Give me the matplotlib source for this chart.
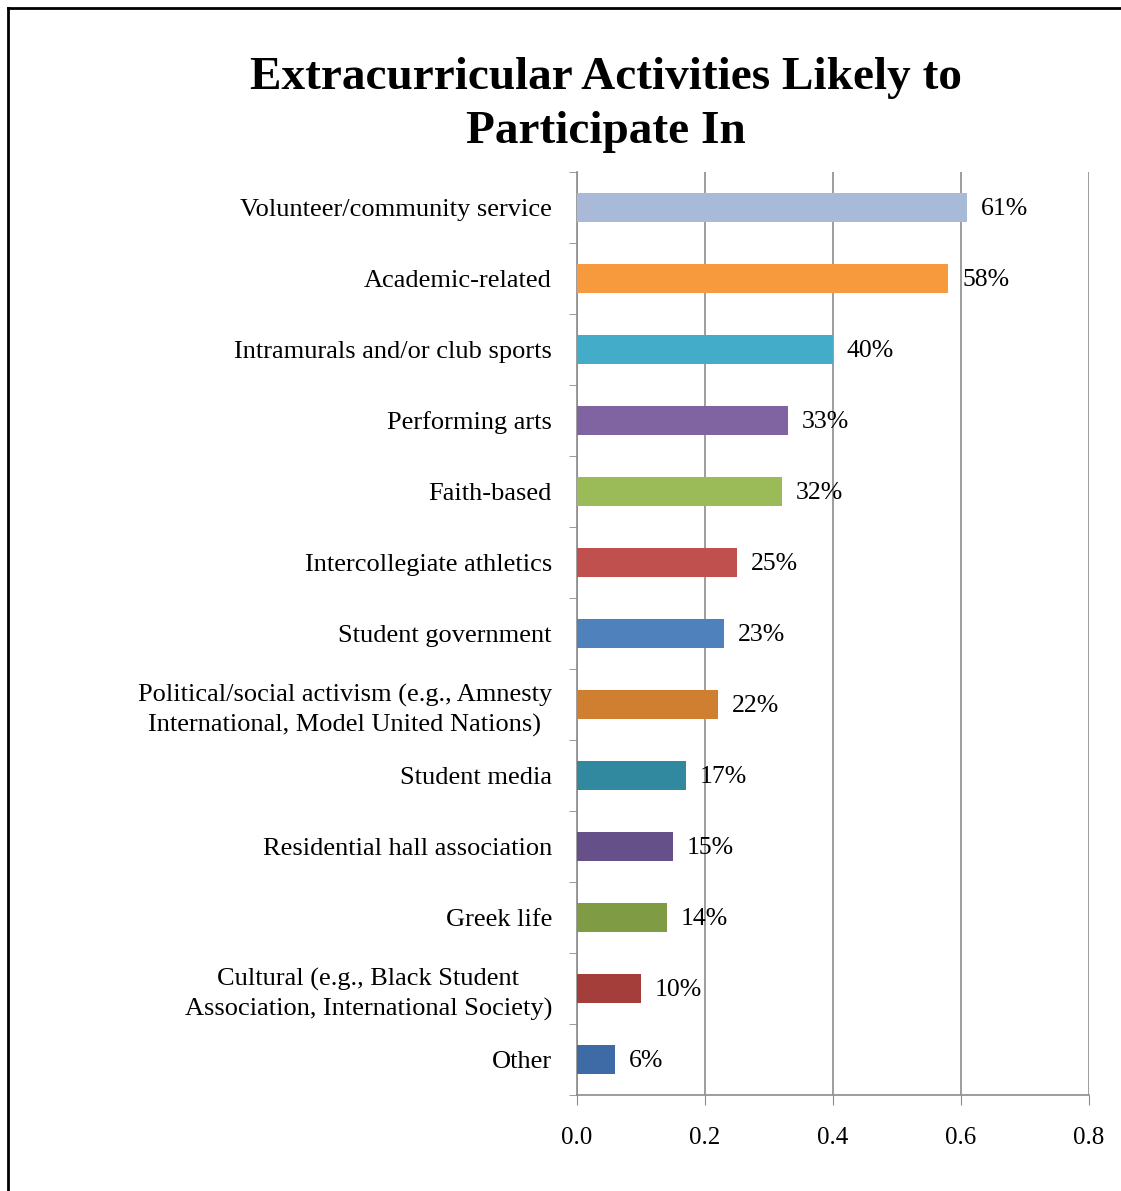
import matplotlib
matplotlib.use("Agg")
import matplotlib.pyplot as plt
from matplotlib.lines import Line2D

# data (top to bottom as shown)
categories = [
    "Volunteer/community service",
    "Academic-related",
    "Intramurals and/or club sports",
    "Performing arts",
    "Faith-based",
    "Intercollegiate athletics",
    "Student government",
    "Political/social activism (e.g., Amnesty\nInternational, Model United Nations)",
    "Student media",
    "Residential hall association",
    "Greek life",
    "Cultural (e.g., Black Student\nAssociation, International Society)",
    "Other",
]
values = [0.61, 0.58, 0.40, 0.33, 0.32, 0.25, 0.23, 0.22, 0.17, 0.15, 0.14, 0.10, 0.06]
value_labels = ["61%", "58%", "40%", "33%", "32%", "25%", "23%", "22%", "17%", "15%", "14%", "10%", "6%"]
colors = ["#A9B9D8", "#F79A3E", "#43ACC8", "#8064A2", "#9BBB59", "#C0504D", "#4F81BD",
          "#D07E30", "#31899F", "#65508A", "#7F9C45", "#A33E3B", "#3E6BA5"]
x_ticks = [0.0, 0.2, 0.4, 0.6, 0.8]

plt.rcParams['font.family'] = ['Liberation Serif', 'DejaVu Serif']

fig = plt.figure(figsize=(11.21, 11.91), dpi=100)
ax = fig.add_axes([577 / 1121, 1 - 1095 / 1191, 512 / 1121, 923 / 1191])

# outer frame (top and left visible)
fig.add_artist(Line2D([8 / 1121, 8 / 1121], [0, 1 - 8 / 1191], transform=fig.transFigure, color='black', lw=2))
fig.add_artist(Line2D([8 / 1121, 1], [1 - 8 / 1191, 1 - 8 / 1191], transform=fig.transFigure, color='black', lw=2))

ypos = list(range(len(categories)))
ax.barh(ypos, values, height=0.4, color=colors, zorder=3)
for y, v, lab in zip(ypos, values, value_labels):
    ax.annotate(lab, (v, y), xytext=(10, -1), textcoords='offset points',
                va='center', ha='left', fontsize=18.5, zorder=4)

ax.set_xlim(0, 0.8)
ax.set_ylim(len(categories) - 0.5, -0.5)
ax.set_xticks(x_ticks)
ax.set_xticklabels([f"{t:.1f}" for t in x_ticks], fontsize=18)
ax.set_yticks(ypos)
ax.set_yticklabels(categories, fontsize=19, multialignment='center', linespacing=1.4)
ax.tick_params(axis='y', length=0, pad=18)
ax.tick_params(axis='x', length=7, color='#8C8C8C', pad=16)

# category boundary ticks on the y axis
ax.set_yticks([i - 0.5 for i in range(len(categories) + 1)], minor=True)
ax.tick_params(axis='y', which='minor', length=6, color='#8C8C8C')

ax.grid(axis='x', color='#8C8C8C', lw=1.2, zorder=0)
for s in ['top', 'right']:
    ax.spines[s].set_visible(False)
for s in ['left', 'bottom']:
    ax.spines[s].set_color('#8C8C8C')
    ax.spines[s].set_linewidth(1.2)

fig.text(606 / 1121, 1 - 105 / 1191, "Extracurricular Activities Likely to\nParticipate In",
         ha='center', va='center', fontsize=34, fontweight='bold', linespacing=1.4)

fig.savefig("out.png", dpi=100, facecolor='white')
